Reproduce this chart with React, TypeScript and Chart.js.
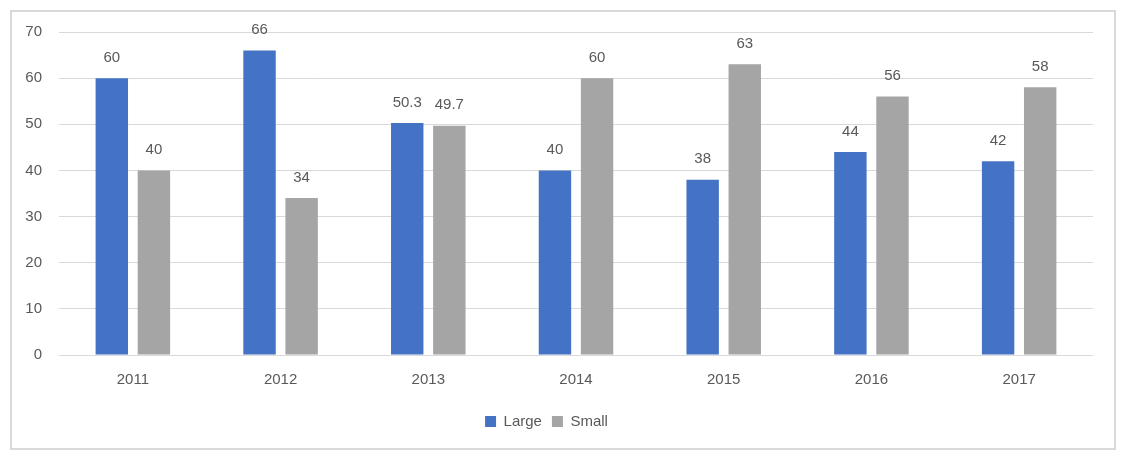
import React, { useEffect, useRef } from "react";
import { Chart, registerables } from "chart.js";

Chart.register(...registerables);

const categories = ["2011", "2012", "2013", "2014", "2015", "2016", "2017"];
const largeValues = [60, 66, 50.3, 40, 38, 44, 42];
const smallValues = [40, 34, 49.7, 60, 63, 56, 58];
const yTicks = [0, 10, 20, 30, 40, 50, 60, 70];

const FONT = "'Liberation Sans', Arial, sans-serif";
const TEXT = "#595959";

const valueLabels = {
  id: "valueLabels",
  afterDatasetsDraw(chart: any) {
    const ctx = chart.ctx;
    ctx.save();
    ctx.font = `15px ${FONT}`;
    ctx.fillStyle = TEXT;
    ctx.textAlign = "center";
    ctx.textBaseline = "bottom";
    chart.data.datasets.forEach((ds: any, i: number) => {
      const meta = chart.getDatasetMeta(i);
      meta.data.forEach((bar: any, j: number) => {
        ctx.fillText(String(ds.data[j]), bar.x, bar.y - 13);
      });
    });
    ctx.restore();
  },
};

export default function App() {
  const ref = useRef<HTMLCanvasElement>(null);
  useEffect(() => {
    if (!ref.current) return;
    const chart = new Chart(ref.current, {
      type: "bar",
      data: {
        labels: categories,
        datasets: [
          {
            label: "Large",
            data: largeValues,
            backgroundColor: "#4472C4",
            categoryPercentage: 0.57,
            barPercentage: 0.77,
          },
          {
            label: "Small",
            data: smallValues,
            backgroundColor: "#A5A5A5",
            categoryPercentage: 0.57,
            barPercentage: 0.77,
          },
        ],
      },
      options: {
        animation: false,
        responsive: false,
        maintainAspectRatio: false,
        layout: { padding: { left: 0, right: 32, top: 32, bottom: 19 } },
        scales: {
          x: {
            grid: { display: false },
            border: { display: false },
            ticks: { color: TEXT, font: { family: FONT, size: 15 }, padding: 8 },
            afterFit: (s: any) => {
              s.height = 49;
            },
          },
          y: {
            min: 0,
            max: 70,
            afterBuildTicks: (s: any) => {
              s.ticks = yTicks.map((v) => ({ value: v }));
            },
            grid: { color: "#d9d9d9", lineWidth: 1, drawTicks: false },
            border: { display: false },
            ticks: { color: TEXT, font: { family: FONT, size: 15 }, padding: 17 },
            afterFit: (s: any) => {
              s.width = 59;
            },
          },
        },
        plugins: {
          legend: {
            position: "bottom",
            labels: {
              boxWidth: 11,
              boxHeight: 11,
              color: TEXT,
              font: { family: FONT, size: 15 },
              padding: 10,
            },
          },
          tooltip: { enabled: false },
        },
      },
      plugins: [valueLabels],
    });
    return () => chart.destroy();
  }, []);
  return (
    <div style={{ position: "fixed", left: 0, top: 0, width: 1125, height: 458, background: "#fff" }}>
      <div
        style={{
          position: "absolute",
          left: 10,
          top: 10,
          width: 1106,
          height: 440,
          border: "2px solid #d9d9d9",
          boxSizing: "border-box",
        }}
      />
      <canvas ref={ref} width={1125} height={458} style={{ position: "absolute", left: 0, top: 0 }} />
    </div>
  );
}
